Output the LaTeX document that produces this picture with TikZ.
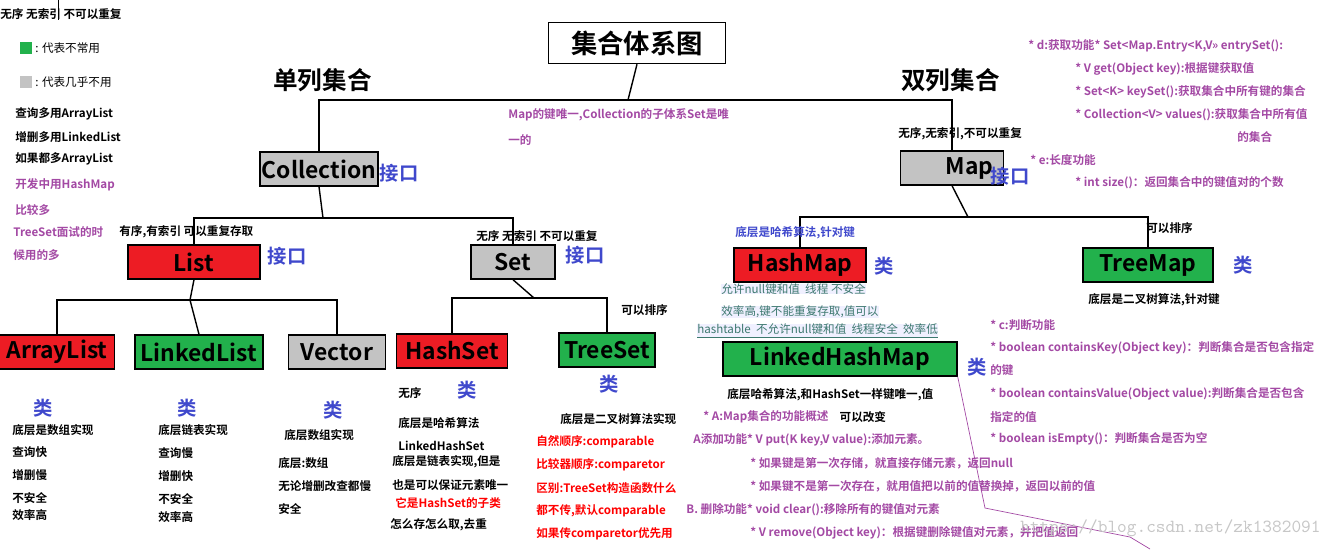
\documentclass[tikz,border=0pt]{standalone}
\usepackage{fontspec}
\usetikzlibrary{positioning}
\setmainfont{Noto Sans CJK SC}[BoldFont={Noto Sans CJK SC Bold}]
\definecolor{boxred}{RGB}{237,28,36}
\definecolor{boxgreen}{RGB}{34,177,76}
\definecolor{boxgray}{RGB}{195,195,195}
\definecolor{tagblue}{RGB}{63,72,204}
\definecolor{notepurple}{RGB}{163,73,164}
\definecolor{noteteal}{RGB}{60,120,110}
\tikzset{
  cls/.style={draw=black,line width=0.8pt,minimum height=34*0.02cm,inner sep=0pt,font=\bfseries\fontsize{13}{13}\selectfont},
  tag/.style={text=tagblue,font=\bfseries\fontsize{11}{11}\selectfont,inner sep=0pt},
  txt/.style={anchor=west,inner sep=0pt,font=\bfseries\fontsize{6.6}{7}\selectfont},
  pnote/.style={txt,text=notepurple},
  rnote/.style={txt,text=red},
  big/.style={anchor=west,inner sep=0pt,font=\bfseries\fontsize{14}{14}\selectfont},
}
\begin{document}
\begin{tikzpicture}[x=0.02cm,y=-0.02cm]
\useasboundingbox (0,0) rectangle (1341,549);
% title and interfaces
\node[draw,line width=0.8pt,minimum width=177*0.02cm,minimum height=41*0.02cm,font=\bfseries\fontsize{15}{15}\selectfont] (title) at (637,43) {集合体系图};
\node[cls,fill=boxgray,minimum width=118*0.02cm] (coll) at (319,169) {Collection};
\node[cls,fill=boxgray,minimum width=103*0.02cm] (map) at (952,168) {\hspace*{20pt}Map};
\node[tag] (collif) at (399,173) {接口};
\node[tag] (mapif) at (1010,176) {接口};
% list and set
\node[cls,fill=boxred,minimum width=132*0.02cm] (list) at (194,262) {List};
\node[cls,fill=boxgray,minimum width=84*0.02cm] (set) at (513,262) {Set};
\node[tag] (listif) at (287,256) {接口};
\node[tag] (setif) at (585,255) {接口};
\node[cls,fill=boxred,minimum width=115*0.02cm] (alist) at (57,352) {ArrayList};
\node[cls,fill=boxgreen,minimum width=128*0.02cm] (llist) at (199,352) {LinkedList};
\node[cls,fill=boxgray,minimum width=97*0.02cm] (vec) at (337,352) {Vector};
\node[cls,fill=boxred,minimum width=111*0.02cm] (hset) at (452,351) {HashSet};
\node[cls,fill=boxgreen,minimum width=96*0.02cm] (tset) at (607,350) {TreeSet};
% maps
\node[cls,fill=boxred,minimum width=132*0.02cm] (hmap) at (800,265) {HashMap};
\node[cls,fill=boxgreen,minimum width=130*0.02cm] (tmap) at (1148,265) {TreeMap};
\node[cls,fill=boxgreen,minimum width=234*0.02cm] (lhmap) at (840,359) {LinkedHashMap};
% connectors
\coordinate (top) at (628,100);
\coordinate (cj) at (323,218);
\coordinate (lj) at (190,300);
\coordinate (sj) at (534,298);
\coordinate (mj) at (968,217);
\draw[thick] (title.south) -- (top);
\draw[thick] (coll.north) |- (top) -| (map.north);
\draw[thick] (coll.south) -- (cj);
\draw[thick] (list.north) |- (cj) -| (set.north);
\draw[thick] (list.south) -- (lj);
\draw[thick] (alist.north) |- (lj) -| (vec.north);
\draw[thick] (llist.north) -- (lj);
\draw[thick] (set.south) -- (sj);
\draw[thick] (hset.north) |- (sj) -| (tset.north);
\draw[thick] (map.south) -- (mj);
\draw[thick] (hmap.north) |- (mj) -| (tmap.north);
\draw[notepurple] (lhmap.south east) -- (985,508) -- (1130,537) -- (1150,549);
\draw (58,0) -- (58,20);
% class tags
\foreach \px/\py in {43/408,187/408,333/410,467/390,609/384,884/266,1243/265,977/367}
  \node[tag] at (\px,\py) {类};
% legend and left notes
\node[txt] (l0) at (0,14) {无序 无索引 不可以重复};
\node[fill=boxgreen,minimum size=12*0.02cm,inner sep=0pt] (gsq) at (26,48) {};
\node[txt,font=\fontsize{6.6}{7}\selectfont] (g1) at (35,48) {: 代表不常用};
\node[fill=boxgray,minimum size=12*0.02cm,inner sep=0pt] (ysq) at (26,82) {};
\node[txt,font=\fontsize{6.6}{7}\selectfont] (g2) at (35,82) {: 代表几乎不用};
\node[txt] at (15,114) {查询多用ArrayList};
\node[txt] at (15,137) {增删多用LinkedList};
\node[txt] at (15,159) {如果都多ArrayList};
\node[pnote] at (15,185) {开发中用HashMap};
\node[pnote] at (15,210) {比较多};
\node[pnote] at (13,232) {TreeSet面试的时};
\node[pnote] at (13,255) {候用的多};
\node[big] at (273,80) {单列集合};
\node[big] at (901,80) {双列集合};
\node[txt] at (119,232) {有序,有索引 可以重复存取};
\node[txt] at (476,236) {无序 无索引 不可以重复};
\node[txt] at (621,310) {可以排序};
\node[txt] at (1146,228) {可以排序};
% list/set details
\foreach \ty/\tx in {430/底层是数组实现,452/查询快,475/增删慢,498/不安全,515/效率高}
  \node[txt] at (12,\ty) {\tx};
\foreach \ty/\tx in {430/底层链表实现,453/查询慢,476/增删快,499/不安全,517/效率高}
  \node[txt] at (158,\ty) {\tx};
\node[txt] at (284,435) {底层数组实现};
\foreach \ty/\tx in {463/底层:数组,486/无论增删改查都慢,509/安全}
  \node[txt] at (278,\ty) {\tx};
\node[txt] at (398,393) {无序};
\node[txt] at (398,423) {底层是哈希算法};
\node[txt] at (398,446) {LinkedHashSet};
\node[txt] at (392,462) {底层是链表实现,但是};
\node[txt] at (392,485) {也是可以保证元素唯一};
\node[rnote] at (395,503) {它是HashSet的子类};
\node[txt] at (390,525) {怎么存怎么取,去重};
\node[txt] at (560,419) {底层是二叉树算法实现};
\foreach \ty/\tx in {442/自然顺序:comparable,465/比较器顺序:comparetor,488/区别:TreeSet构造函数什么,511/{都不传,默认comparable},534/如果传comparetor优先用}
  \node[rnote] at (536,\ty) {\tx};
% map notes
\node[pnote] at (508,115) {Map的键唯一,Collection的子体系Set是唯};
\node[pnote] at (508,140) {一的};
\node[txt] at (898,134) {无序,无索引,不可以重复};
\node[pnote] at (1028,46) {* d:获取功能* Set<Map.Entry<K,V>> entrySet():};
\node[pnote] at (1075,69) {* V get(Object key):根据键获取值};
\node[pnote] at (1075,92) {* Set<K> keySet():获取集合中所有键的集合};
\node[pnote] at (1075,115) {* Collection<V> values():获取集合中所有值};
\node[pnote] at (1237,137) {的集合};
\node[pnote] at (1030,160) {* e:长度功能};
\node[pnote] at (1075,183) {* int size()：返回集合中的键值对的个数};
\node[txt,text=tagblue] at (735,233) {底层是哈希算法,针对键};
\node[txt] at (1088,300) {底层是二叉树算法,针对键};
\node[txt,text=noteteal,fill=blue!6,font=\fontsize{6.6}{7}\selectfont] at (721,289) {允许null键和值\ \ 线程 不安全};
\node[txt,text=noteteal,fill=blue!6,font=\fontsize{6.6}{7}\selectfont] at (721,312) {效率高,键不能重复存取,值可以};
\node[txt,text=noteteal,fill=blue!6,font=\fontsize{6.6}{7}\selectfont] at (697,331) {\underline{hashtable\ \ 不允许null键和值\ \ 线程安全\ \ 效率低}};
\node[pnote] at (990,325) {* c:判断功能};
\node[pnote] at (990,348) {* boolean containsKey(Object key)：判断集合是否包含指定};
\node[pnote] at (990,370) {的键};
\node[pnote] at (990,394) {* boolean containsValue(Object value):判断集合是否包含};
\node[pnote] at (990,417) {指定的值};
\node[pnote] at (990,439) {* boolean isEmpty()：判断集合是否为空};
\node[txt] at (727,395) {底层哈希算法,和HashSet一样键唯一,值};
\node[pnote] (fa) at (703,417) {* A:Map集合的功能概述};
\node[txt,right=6pt of fa,inner sep=0pt] {可以改变};
\node[pnote] at (693,440) {A添加功能* V put(K key,V value):添加元素。};
\node[pnote] at (750,463) {* 如果键是第一次存储，就直接存储元素，返回null};
\node[pnote] at (750,486) {* 如果键不是第一次存在，就用值把以前的值替换掉，返回以前的值};
\node[pnote] at (686,510) {B. 删除功能* void clear():移除所有的键值对元素};
\node[pnote] at (750,533) {* V remove(Object key)：根据键删除键值对元素，并把值返回};
\node[anchor=west,inner sep=0pt,text=black!22,font=\ttfamily\fontsize{10.5}{10.5}\selectfont] at (1020,528) {https://blog.csdn.net/zk1382091};
\end{tikzpicture}
\end{document}
